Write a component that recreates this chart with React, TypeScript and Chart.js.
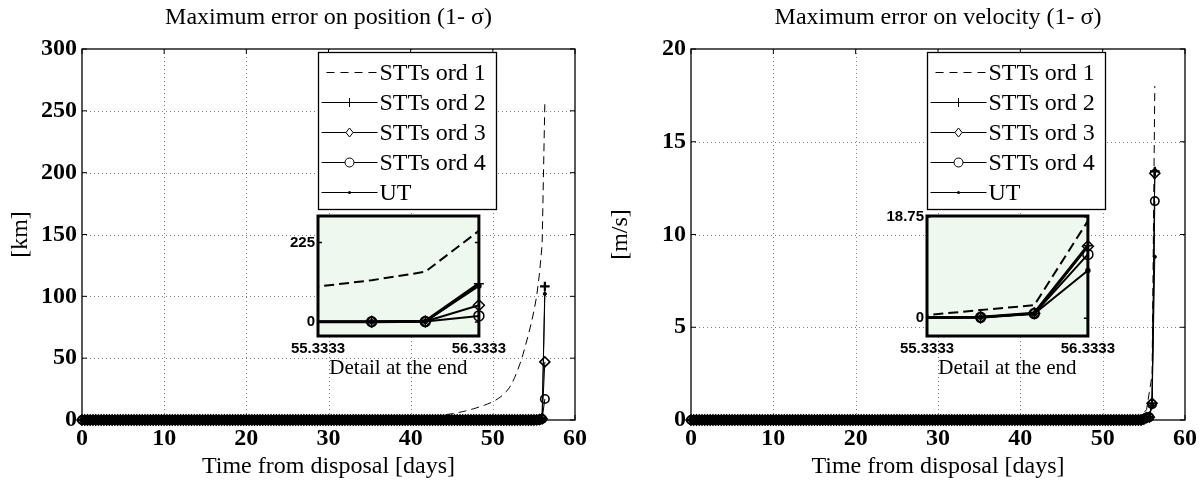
import { useEffect, useRef } from "react";
import { Chart, registerables } from "chart.js";

Chart.register(...registerables);

const SERIF = '"Liberation Serif", "Times New Roman", serif';
const SANS = '"Liberation Sans", Arial, sans-serif';

// Propagation epochs [days from disposal], every 1/3 day
const days = [
  0, 0.3333, 0.6667, 1, 1.3333, 1.6667, 2, 2.3333, 2.6667, 3, 3.3333, 3.6667,
  4, 4.3333, 4.6667, 5, 5.3333, 5.6667, 6, 6.3333, 6.6667, 7, 7.3333, 7.6667,
  8, 8.3333, 8.6667, 9, 9.3333, 9.6667, 10, 10.3333, 10.6667, 11, 11.3333, 11.6667,
  12, 12.3333, 12.6667, 13, 13.3333, 13.6667, 14, 14.3333, 14.6667, 15, 15.3333, 15.6667,
  16, 16.3333, 16.6667, 17, 17.3333, 17.6667, 18, 18.3333, 18.6667, 19, 19.3333, 19.6667,
  20, 20.3333, 20.6667, 21, 21.3333, 21.6667, 22, 22.3333, 22.6667, 23, 23.3333, 23.6667,
  24, 24.3333, 24.6667, 25, 25.3333, 25.6667, 26, 26.3333, 26.6667, 27, 27.3333, 27.6667,
  28, 28.3333, 28.6667, 29, 29.3333, 29.6667, 30, 30.3333, 30.6667, 31, 31.3333, 31.6667,
  32, 32.3333, 32.6667, 33, 33.3333, 33.6667, 34, 34.3333, 34.6667, 35, 35.3333, 35.6667,
  36, 36.3333, 36.6667, 37, 37.3333, 37.6667, 38, 38.3333, 38.6667, 39, 39.3333, 39.6667,
  40, 40.3333, 40.6667, 41, 41.3333, 41.6667, 42, 42.3333, 42.6667, 43, 43.3333, 43.6667,
  44, 44.3333, 44.6667, 45, 45.3333, 45.6667, 46, 46.3333, 46.6667, 47, 47.3333, 47.6667,
  48, 48.3333, 48.6667, 49, 49.3333, 49.6667, 50, 50.3333, 50.6667, 51, 51.3333, 51.6667,
  52, 52.3333, 52.6667, 53, 53.3333, 53.6667, 54, 54.3333, 54.6667, 55, 55.3333, 55.6667,
  56, 56.3333,
];

// Maximum 1-sigma position error [km]
const posOrd1 = [
  0, 0, 0, 0, 0, 0, 0, 0, 0, 0, 0, 0,
  0, 0, 0, 0, 0, 0, 0, 0, 0, 0, 0, 0,
  0, 0, 0, 0, 0, 0, 0, 0, 0, 0, 0, 0,
  0.1, 0.1, 0.1, 0.1, 0.1, 0.1, 0.1, 0.1, 0.2, 0.2, 0.2, 0.2,
  0.2, 0.2, 0.2, 0.2, 0.2, 0.3, 0.3, 0.3, 0.3, 0.3, 0.3, 0.3,
  0.3, 0.4, 0.4, 0.4, 0.4, 0.4, 0.4, 0.5, 0.5, 0.5, 0.5, 0.5,
  0.5, 0.6, 0.6, 0.6, 0.6, 0.7, 0.7, 0.7, 0.7, 0.8, 0.8, 0.8,
  0.8, 0.8, 0.9, 0.9, 0.9, 0.9, 1.0, 1.0, 1.0, 1.0, 1.1, 1.1,
  1.1, 1.1, 1.2, 1.2, 1.2, 1.3, 1.3, 1.3, 1.4, 1.4, 1.4, 1.5,
  1.5, 1.5, 1.6, 1.6, 1.6, 1.7, 1.7, 1.8, 1.8, 1.8, 1.9, 1.9,
  2.0, 2.1, 2.2, 2.4, 2.5, 2.7, 2.8, 2.9, 3.0, 3.2, 3.5, 3.8,
  4.1, 4.4, 4.7, 5.0, 5.4, 5.8, 6.3, 6.8, 7.3, 7.9, 8.5, 9.1,
  9.8, 10.5, 11.2, 12.0, 12.9, 13.8, 14.8, 16.0, 17.4, 19.0, 20.9, 23.2,
  26.0, 29.8, 34.5, 40, 46, 53, 61, 69, 78, 88, 100, 118,
  142, 258,
];
const posOrd2 = [
  0, 0, 0, 0, 0, 0, 0, 0, 0, 0, 0, 0,
  0, 0, 0, 0, 0, 0, 0, 0, 0, 0, 0, 0,
  0, 0, 0, 0, 0, 0, 0, 0, 0, 0, 0, 0,
  0, 0, 0, 0, 0, 0, 0, 0, 0, 0, 0, 0,
  0, 0, 0, 0, 0, 0, 0, 0, 0, 0, 0, 0,
  0, 0, 0, 0, 0, 0, 0, 0, 0, 0, 0, 0,
  0, 0, 0, 0, 0, 0, 0, 0, 0, 0, 0, 0,
  0, 0, 0, 0, 0, 0, 0, 0, 0, 0, 0, 0,
  0, 0, 0, 0, 0, 0, 0, 0, 0, 0, 0, 0,
  0, 0, 0, 0, 0, 0, 0, 0, 0, 0, 0, 0,
  0, 0, 0, 0, 0, 0, 0, 0, 0, 0, 0, 0,
  0, 0, 0, 0, 0, 0, 0, 0, 0, 0, 0, 0,
  0, 0, 0, 0, 0, 0, 0, 0, 0, 0, 0, 0,
  0, 0, 0, 0, 0, 0, 0, 0, 0, 0, 0.1, 0.3,
  1.5, 108,
];
const posOrd3 = [
  0, 0, 0, 0, 0, 0, 0, 0, 0, 0, 0, 0,
  0, 0, 0, 0, 0, 0, 0, 0, 0, 0, 0, 0,
  0, 0, 0, 0, 0, 0, 0, 0, 0, 0, 0, 0,
  0, 0, 0, 0, 0, 0, 0, 0, 0, 0, 0, 0,
  0, 0, 0, 0, 0, 0, 0, 0, 0, 0, 0, 0,
  0, 0, 0, 0, 0, 0, 0, 0, 0, 0, 0, 0,
  0, 0, 0, 0, 0, 0, 0, 0, 0, 0, 0, 0,
  0, 0, 0, 0, 0, 0, 0, 0, 0, 0, 0, 0,
  0, 0, 0, 0, 0, 0, 0, 0, 0, 0, 0, 0,
  0, 0, 0, 0, 0, 0, 0, 0, 0, 0, 0, 0,
  0, 0, 0, 0, 0, 0, 0, 0, 0, 0, 0, 0,
  0, 0, 0, 0, 0, 0, 0, 0, 0, 0, 0, 0,
  0, 0, 0, 0, 0, 0, 0, 0, 0, 0, 0, 0,
  0, 0, 0, 0, 0, 0, 0, 0, 0, 0, 0.1, 0.3,
  1.0, 47,
];
const posOrd4 = [
  0, 0, 0, 0, 0, 0, 0, 0, 0, 0, 0, 0,
  0, 0, 0, 0, 0, 0, 0, 0, 0, 0, 0, 0,
  0, 0, 0, 0, 0, 0, 0, 0, 0, 0, 0, 0,
  0, 0, 0, 0, 0, 0, 0, 0, 0, 0, 0, 0,
  0, 0, 0, 0, 0, 0, 0, 0, 0, 0, 0, 0,
  0, 0, 0, 0, 0, 0, 0, 0, 0, 0, 0, 0,
  0, 0, 0, 0, 0, 0, 0, 0, 0, 0, 0, 0,
  0, 0, 0, 0, 0, 0, 0, 0, 0, 0, 0, 0,
  0, 0, 0, 0, 0, 0, 0, 0, 0, 0, 0, 0,
  0, 0, 0, 0, 0, 0, 0, 0, 0, 0, 0, 0,
  0, 0, 0, 0, 0, 0, 0, 0, 0, 0, 0, 0,
  0, 0, 0, 0, 0, 0, 0, 0, 0, 0, 0, 0,
  0, 0, 0, 0, 0, 0, 0, 0, 0, 0, 0, 0,
  0, 0, 0, 0, 0, 0, 0, 0, 0, 0, 0.1, 0.3,
  0.8, 17,
];
const posUT = [
  0, 0, 0, 0, 0, 0, 0, 0, 0, 0, 0, 0,
  0, 0, 0, 0, 0, 0, 0, 0, 0, 0, 0, 0,
  0, 0, 0, 0, 0, 0, 0, 0, 0, 0, 0, 0,
  0, 0, 0, 0, 0, 0, 0, 0, 0, 0, 0, 0,
  0, 0, 0, 0, 0, 0, 0, 0, 0, 0, 0, 0,
  0, 0, 0, 0, 0, 0, 0, 0, 0, 0, 0, 0,
  0, 0, 0, 0, 0, 0, 0, 0, 0, 0, 0, 0,
  0, 0, 0, 0, 0, 0, 0, 0, 0, 0, 0, 0,
  0, 0, 0, 0, 0, 0, 0, 0, 0, 0, 0, 0,
  0, 0, 0, 0, 0, 0, 0, 0, 0, 0, 0, 0,
  0, 0, 0, 0, 0, 0, 0, 0, 0, 0, 0, 0,
  0, 0, 0, 0, 0, 0, 0, 0, 0, 0, 0, 0,
  0, 0, 0, 0, 0, 0, 0, 0, 0, 0, 0, 0,
  0, 0, 0, 0, 0, 0, 0, 0, 0, 0, 0.1, 0.3,
  1.4, 102,
];

// Maximum 1-sigma velocity error [m/s]
const velOrd1 = [
  0, 0, 0, 0, 0, 0, 0, 0, 0, 0, 0, 0,
  0, 0, 0, 0, 0, 0, 0, 0, 0, 0, 0, 0,
  0, 0, 0, 0, 0, 0, 0, 0, 0, 0, 0, 0,
  0, 0, 0, 0, 0, 0, 0, 0, 0, 0, 0, 0,
  0, 0, 0, 0, 0, 0, 0, 0, 0, 0, 0, 0,
  0, 0, 0, 0, 0, 0, 0, 0, 0, 0, 0, 0,
  0, 0, 0, 0, 0, 0, 0, 0, 0, 0, 0, 0,
  0, 0, 0, 0, 0, 0, 0, 0, 0, 0, 0, 0,
  0, 0, 0, 0, 0, 0, 0, 0, 0, 0, 0, 0,
  0, 0, 0, 0, 0, 0, 0, 0, 0, 0, 0, 0,
  0, 0, 0, 0, 0, 0, 0, 0, 0, 0, 0, 0,
  0, 0, 0, 0, 0, 0, 0, 0, 0.01, 0.01, 0.01, 0.01,
  0.02, 0.02, 0.03, 0.03, 0.03, 0.04, 0.04, 0.05, 0.05, 0.06, 0.06, 0.07,
  0.08, 0.09, 0.1, 0.12, 0.14, 0.16, 0.19, 0.23, 0.3, 0.4, 0.56, 1.5,
  2.4, 18.0,
];
const velOrd2 = [
  0, 0, 0, 0, 0, 0, 0, 0, 0, 0, 0, 0,
  0, 0, 0, 0, 0, 0, 0, 0, 0, 0, 0, 0,
  0, 0, 0, 0, 0, 0, 0, 0, 0, 0, 0, 0,
  0, 0, 0, 0, 0, 0, 0, 0, 0, 0, 0, 0,
  0, 0, 0, 0, 0, 0, 0, 0, 0, 0, 0, 0,
  0, 0, 0, 0, 0, 0, 0, 0, 0, 0, 0, 0,
  0, 0, 0, 0, 0, 0, 0, 0, 0, 0, 0, 0,
  0, 0, 0, 0, 0, 0, 0, 0, 0, 0, 0, 0,
  0, 0, 0, 0, 0, 0, 0, 0, 0, 0, 0, 0,
  0, 0, 0, 0, 0, 0, 0, 0, 0, 0, 0, 0,
  0, 0, 0, 0, 0, 0, 0, 0, 0, 0, 0, 0,
  0, 0, 0, 0, 0, 0, 0, 0, 0, 0, 0, 0,
  0, 0, 0, 0, 0, 0, 0, 0, 0, 0, 0, 0,
  0, 0, 0, 0, 0, 0, 0, 0, 0, 0.05, 0.13, 0.15,
  0.9, 13.4,
];
const velOrd3 = [
  0, 0, 0, 0, 0, 0, 0, 0, 0, 0, 0, 0,
  0, 0, 0, 0, 0, 0, 0, 0, 0, 0, 0, 0,
  0, 0, 0, 0, 0, 0, 0, 0, 0, 0, 0, 0,
  0, 0, 0, 0, 0, 0, 0, 0, 0, 0, 0, 0,
  0, 0, 0, 0, 0, 0, 0, 0, 0, 0, 0, 0,
  0, 0, 0, 0, 0, 0, 0, 0, 0, 0, 0, 0,
  0, 0, 0, 0, 0, 0, 0, 0, 0, 0, 0, 0,
  0, 0, 0, 0, 0, 0, 0, 0, 0, 0, 0, 0,
  0, 0, 0, 0, 0, 0, 0, 0, 0, 0, 0, 0,
  0, 0, 0, 0, 0, 0, 0, 0, 0, 0, 0, 0,
  0, 0, 0, 0, 0, 0, 0, 0, 0, 0, 0, 0,
  0, 0, 0, 0, 0, 0, 0, 0, 0, 0, 0, 0,
  0, 0, 0, 0, 0, 0, 0, 0, 0, 0, 0, 0,
  0, 0, 0, 0, 0, 0, 0, 0, 0, 0.05, 0.13, 0.15,
  0.9, 13.3,
];
const velOrd4 = [
  0, 0, 0, 0, 0, 0, 0, 0, 0, 0, 0, 0,
  0, 0, 0, 0, 0, 0, 0, 0, 0, 0, 0, 0,
  0, 0, 0, 0, 0, 0, 0, 0, 0, 0, 0, 0,
  0, 0, 0, 0, 0, 0, 0, 0, 0, 0, 0, 0,
  0, 0, 0, 0, 0, 0, 0, 0, 0, 0, 0, 0,
  0, 0, 0, 0, 0, 0, 0, 0, 0, 0, 0, 0,
  0, 0, 0, 0, 0, 0, 0, 0, 0, 0, 0, 0,
  0, 0, 0, 0, 0, 0, 0, 0, 0, 0, 0, 0,
  0, 0, 0, 0, 0, 0, 0, 0, 0, 0, 0, 0,
  0, 0, 0, 0, 0, 0, 0, 0, 0, 0, 0, 0,
  0, 0, 0, 0, 0, 0, 0, 0, 0, 0, 0, 0,
  0, 0, 0, 0, 0, 0, 0, 0, 0, 0, 0, 0,
  0, 0, 0, 0, 0, 0, 0, 0, 0, 0, 0, 0,
  0, 0, 0, 0, 0, 0, 0, 0, 0, 0.05, 0.13, 0.15,
  0.85, 11.8,
];
const velUT = [
  0, 0, 0, 0, 0, 0, 0, 0, 0, 0, 0, 0,
  0, 0, 0, 0, 0, 0, 0, 0, 0, 0, 0, 0,
  0, 0, 0, 0, 0, 0, 0, 0, 0, 0, 0, 0,
  0, 0, 0, 0, 0, 0, 0, 0, 0, 0, 0, 0,
  0, 0, 0, 0, 0, 0, 0, 0, 0, 0, 0, 0,
  0, 0, 0, 0, 0, 0, 0, 0, 0, 0, 0, 0,
  0, 0, 0, 0, 0, 0, 0, 0, 0, 0, 0, 0,
  0, 0, 0, 0, 0, 0, 0, 0, 0, 0, 0, 0,
  0, 0, 0, 0, 0, 0, 0, 0, 0, 0, 0, 0,
  0, 0, 0, 0, 0, 0, 0, 0, 0, 0, 0, 0,
  0, 0, 0, 0, 0, 0, 0, 0, 0, 0, 0, 0,
  0, 0, 0, 0, 0, 0, 0, 0, 0, 0, 0, 0,
  0, 0, 0, 0, 0, 0, 0, 0, 0, 0, 0, 0,
  0, 0, 0, 0, 0, 0, 0, 0, 0, 0.05, 0.13, 0.15,
  0.8, 8.8,
];

const seriesLabels = ["STTs ord 1", "STTs ord 2", "STTs ord 3", "STTs ord 4", "UT"];
const insetDays = [55.3333, 56.3333];
const posInsetTicks = [0, 225];
const velInsetTicks = [0, 18.75];

// Line / marker look of each series
const markerStyles = ["circle", "cross", "rectRot", "circle", "circle"];
const mainRadius = [0, 4.8, 5, 4.2, 1.6];
const mainMarkerWidth = [1, 2.2, 1.6, 1.6, 1];
const insetRadius = [0, 5, 5.5, 5, 2];
const insetWidths = [2, 3, 2, 2, 2];
const INSET_BG = "#eef8ee";

function makeDatasets(values: number[][], inset: boolean) {
  return values.map((vals, i) => ({
    label: seriesLabels[i],
    data: days.map((d, k) => ({ x: d, y: vals[k] })),
    borderColor: "#000",
    borderWidth: inset ? insetWidths[i] : 1,
    borderDash: i === 0 ? (inset ? [10, 5] : [8, 5]) : [],
    pointStyle: markerStyles[i],
    // markers sitting on the inset's left border are hidden by the frame
    pointRadius: inset
      ? (c: any) => (c.raw && c.raw.x <= insetDays[0] + 0.01 ? 0 : insetRadius[i])
      : mainRadius[i],
    pointBorderColor: "#000",
    pointBorderWidth: inset ? 1.5 : mainMarkerWidth[i],
    pointBackgroundColor: i === 4 ? "#000" : "rgba(0,0,0,0)",
    tension: 0,
    clip: inset ? { left: 0, top: 0, right: false, bottom: 0 } : false,
  }));
}

function drawMarker(ctx: CanvasRenderingContext2D, style: string, x: number, y: number, r: number, filled: boolean) {
  ctx.beginPath();
  if (style === "cross") {
    ctx.moveTo(x - r, y);
    ctx.lineTo(x + r, y);
    ctx.moveTo(x, y - r);
    ctx.lineTo(x, y + r);
    ctx.stroke();
  } else if (style === "rectRot") {
    ctx.moveTo(x, y - r);
    ctx.lineTo(x + r * 0.8, y);
    ctx.lineTo(x, y + r);
    ctx.lineTo(x - r * 0.8, y);
    ctx.closePath();
    ctx.fillStyle = "#fff";
    ctx.fill();
    ctx.stroke();
  } else {
    ctx.arc(x, y, r, 0, Math.PI * 2);
    if (filled) {
      ctx.fillStyle = "#000";
      ctx.fill();
    } else {
      ctx.fillStyle = "#fff";
      ctx.fill();
      ctx.stroke();
    }
  }
}

// Boxed axes with dotted grid, inward ticks, title and legend box
function framePlugin(title: string) {
  return {
    id: "boxedAxes",
    beforeDatasetsDraw(chart: any) {
      const { ctx, chartArea: a, scales } = chart;
      const x = scales.x;
      const y = scales.y;
      ctx.save();
      ctx.strokeStyle = "rgba(0,0,0,0.5)";
      ctx.lineWidth = 1;
      ctx.setLineDash([1, 3]);
      x.ticks.forEach((t: any) => {
        const px = Math.round(x.getPixelForValue(t.value)) + 0.5;
        if (px <= a.left + 1 || px >= a.right - 1) return;
        ctx.beginPath();
        ctx.moveTo(px, a.top);
        ctx.lineTo(px, a.bottom);
        ctx.stroke();
      });
      y.ticks.forEach((t: any) => {
        const py = Math.round(y.getPixelForValue(t.value)) + 0.5;
        if (py <= a.top + 1 || py >= a.bottom - 1) return;
        ctx.beginPath();
        ctx.moveTo(a.left, py);
        ctx.lineTo(a.right, py);
        ctx.stroke();
      });
      ctx.restore();
    },
    afterDatasetsDraw(chart: any) {
      const { ctx, chartArea: a, scales } = chart;
      const x = scales.x;
      const y = scales.y;
      const tl = 5;
      ctx.save();
      ctx.strokeStyle = "#000";
      ctx.lineWidth = 1.3;
      ctx.setLineDash([]);
      ctx.strokeRect(a.left, a.top, a.right - a.left, a.bottom - a.top);
      ctx.lineWidth = 1;
      x.ticks.forEach((t: any) => {
        const px = x.getPixelForValue(t.value);
        ctx.beginPath();
        ctx.moveTo(px, a.bottom);
        ctx.lineTo(px, a.bottom - tl);
        ctx.moveTo(px, a.top);
        ctx.lineTo(px, a.top + tl);
        ctx.stroke();
      });
      y.ticks.forEach((t: any) => {
        const py = y.getPixelForValue(t.value);
        ctx.beginPath();
        ctx.moveTo(a.left, py);
        ctx.lineTo(a.left + tl, py);
        ctx.moveTo(a.right, py);
        ctx.lineTo(a.right - tl, py);
        ctx.stroke();
      });
      ctx.restore();
    },
    afterDraw(chart: any) {
      const { ctx, chartArea: a } = chart;
      ctx.save();
      // title
      ctx.fillStyle = "#000";
      ctx.font = `24px ${SERIF}`;
      ctx.textAlign = "center";
      ctx.textBaseline = "middle";
      ctx.fillText(title, (a.left + a.right) / 2, 18);

      // legend box
      const lx = a.left + 236.5;
      const ly = a.top + 3.5;
      const lw = 178;
      const lh = 157;
      ctx.fillStyle = "#fff";
      ctx.fillRect(lx, ly, lw, lh);
      ctx.strokeStyle = "#000";
      ctx.lineWidth = 1.3;
      ctx.strokeRect(lx, ly, lw, lh);
      chart.data.datasets.forEach((ds: any, i: number) => {
        const cy = ly + 20 + i * 30;
        const dashed = ds.borderDash && ds.borderDash.length > 0;
        ctx.lineWidth = 1;
        ctx.strokeStyle = "#000";
        ctx.setLineDash(dashed ? [8, 6] : []);
        ctx.beginPath();
        ctx.moveTo(lx + (dashed ? 8 : 3), cy);
        ctx.lineTo(lx + 59, cy);
        ctx.stroke();
        ctx.setLineDash([]);
        if (ds.pointRadius > 0) {
          const dot = ds.pointRadius < 2;
          drawMarker(ctx, ds.pointStyle, lx + 31, cy, dot ? 1.5 : 4.5, dot);
        }
        ctx.fillStyle = "#000";
        ctx.font = `24px ${SERIF}`;
        ctx.textAlign = "left";
        ctx.textBaseline = "middle";
        ctx.fillText(ds.label, lx + 61, cy + 1);
      });
      ctx.restore();
    },
  };
}

// Light green detail box with thick border
function insetPlugin() {
  return {
    id: "detailBox",
    beforeDatasetsDraw(chart: any) {
      const { ctx, chartArea: a } = chart;
      ctx.save();
      ctx.fillStyle = INSET_BG;
      ctx.fillRect(a.left, a.top, a.right - a.left, a.bottom - a.top);
      ctx.restore();
    },
    afterDatasetsDraw(chart: any) {
      const { ctx, chartArea: a, scales } = chart;
      const y = scales.y;
      ctx.save();
      ctx.strokeStyle = "#000";
      ctx.lineWidth = 1.5;
      y.ticks.forEach((t: any) => {
        const py = y.getPixelForValue(t.value);
        ctx.beginPath();
        ctx.moveTo(a.left, py);
        ctx.lineTo(a.left + 4, py);
        ctx.moveTo(a.right, py);
        ctx.lineTo(a.right - 4, py);
        ctx.stroke();
      });
      ctx.lineWidth = 3;
      ctx.strokeRect(a.left, a.top, a.right - a.left, a.bottom - a.top);
      ctx.restore();
    },
  };
}

type PanelSpec = {
  title: string;
  yTitle: string;
  yMax: number;
  yStep: number;
  values: number[][];
  yAxisWidth: number;
  padRight: number;
  yTitlePad: number;
};

function mainConfig(spec: PanelSpec): any {
  return {
    type: "line",
    data: { datasets: makeDatasets(spec.values, false) },
    options: {
      responsive: false,
      animation: false,
      devicePixelRatio: 1,
      events: [],
      layout: { padding: { left: 0, right: spec.padRight, top: 49, bottom: 0 } },
      plugins: { legend: { display: false }, tooltip: { enabled: false }, title: { display: false } },
      scales: {
        x: {
          type: "linear",
          min: 0,
          max: 60,
          grid: { display: false, drawTicks: false },
          border: { display: false },
          ticks: {
            stepSize: 10,
            autoSkip: false,
            maxRotation: 0,
            padding: 4,
            color: "#000",
            font: { family: SERIF, size: 24, weight: "bold" },
          },
          title: {
            display: true,
            text: "Time from disposal [days]",
            color: "#000",
            font: { family: SERIF, size: 24 },
            padding: { top: 0, bottom: 3 },
          },
          afterFit: (s: any) => {
            s.height = 64;
          },
        },
        y: {
          type: "linear",
          min: 0,
          max: spec.yMax,
          grid: { display: false, drawTicks: false },
          border: { display: false },
          ticks: {
            stepSize: spec.yStep,
            padding: 5,
            color: "#000",
            font: { family: SERIF, size: 24, weight: "bold" },
          },
          title: {
            display: true,
            text: spec.yTitle,
            color: "#000",
            font: { family: SERIF, size: 24 },
            padding: { top: spec.yTitlePad, bottom: 0 },
          },
          afterFit: (s: any) => {
            s.width = spec.yAxisWidth;
          },
        },
      },
    },
    plugins: [framePlugin(spec.title)],
  };
}

function insetConfig(values: number[][], yMin: number, yMax: number, yTicks: number[]): any {
  return {
    type: "line",
    data: { datasets: makeDatasets(values, true) },
    options: {
      responsive: false,
      animation: false,
      devicePixelRatio: 1,
      events: [],
      layout: { padding: { left: 0, right: 31, top: 16, bottom: 0 } },
      plugins: { legend: { display: false }, tooltip: { enabled: false }, title: { display: false } },
      scales: {
        x: {
          type: "linear",
          min: insetDays[0],
          max: insetDays[1],
          grid: { display: false, drawTicks: false },
          border: { display: false },
          afterBuildTicks: (s: any) => {
            s.ticks = insetDays.map((v) => ({ value: v }));
          },
          ticks: {
            autoSkip: false,
            maxRotation: 0,
            padding: 4,
            color: "#000",
            font: { family: SANS, size: 15, weight: "bold" },
            callback: (v: any) => String(v),
          },
          title: {
            display: true,
            text: "Detail at the end",
            color: "#000",
            font: { family: SERIF, size: 21 },
            padding: { top: 0, bottom: 4 },
          },
          afterFit: (s: any) => {
            s.height = 49;
          },
        },
        y: {
          type: "linear",
          min: yMin,
          max: yMax,
          grid: { display: false, drawTicks: false },
          border: { display: false },
          afterBuildTicks: (s: any) => {
            s.ticks = yTicks.map((v) => ({ value: v }));
          },
          ticks: {
            padding: 3,
            color: "#000",
            font: { family: SANS, size: 15, weight: "bold" },
            callback: (v: any) => String(v),
          },
          afterFit: (s: any) => {
            s.width = 48;
          },
        },
      },
    },
    plugins: [insetPlugin()],
  };
}

export default function App() {
  const posRef = useRef<HTMLCanvasElement>(null);
  const velRef = useRef<HTMLCanvasElement>(null);
  const posInsetRef = useRef<HTMLCanvasElement>(null);
  const velInsetRef = useRef<HTMLCanvasElement>(null);

  useEffect(() => {
    const posValues = [posOrd1, posOrd2, posOrd3, posOrd4, posUT];
    const velValues = [velOrd1, velOrd2, velOrd3, velOrd4, velUT];
    const charts = [
      new Chart(
        posRef.current as HTMLCanvasElement,
        mainConfig({
          title: "Maximum error on position (1- σ)",
          yTitle: "[km]",
          yMax: 300,
          yStep: 50,
          values: posValues,
          yAxisWidth: 82,
          padRight: 26,
          yTitlePad: 6,
        })
      ),
      new Chart(
        velRef.current as HTMLCanvasElement,
        mainConfig({
          title: "Maximum error on velocity (1- σ)",
          yTitle: "[m/s]",
          yMax: 20,
          yStep: 5,
          values: velValues,
          yAxisWidth: 90,
          padRight: 18,
          yTitlePad: 5,
        })
      ),
      new Chart(posInsetRef.current as HTMLCanvasElement, insetConfig(posValues, -40, 300, posInsetTicks)),
      new Chart(velInsetRef.current as HTMLCanvasElement, insetConfig(velValues, -3.3, 18.9, velInsetTicks)),
    ];
    return () => charts.forEach((c) => c.destroy());
  }, []);

  return (
    <div style={{ position: "fixed", left: 0, top: 0, width: 1203, height: 484, background: "#fff", overflow: "hidden" }}>
      <canvas ref={posRef} width={601} height={484} style={{ position: "absolute", left: 0, top: 0 }} />
      <canvas ref={velRef} width={602} height={484} style={{ position: "absolute", left: 601, top: 0 }} />
      <canvas ref={posInsetRef} width={240} height={185} style={{ position: "absolute", left: 270, top: 200 }} />
      <canvas ref={velInsetRef} width={240} height={185} style={{ position: "absolute", left: 879, top: 200 }} />
    </div>
  );
}
